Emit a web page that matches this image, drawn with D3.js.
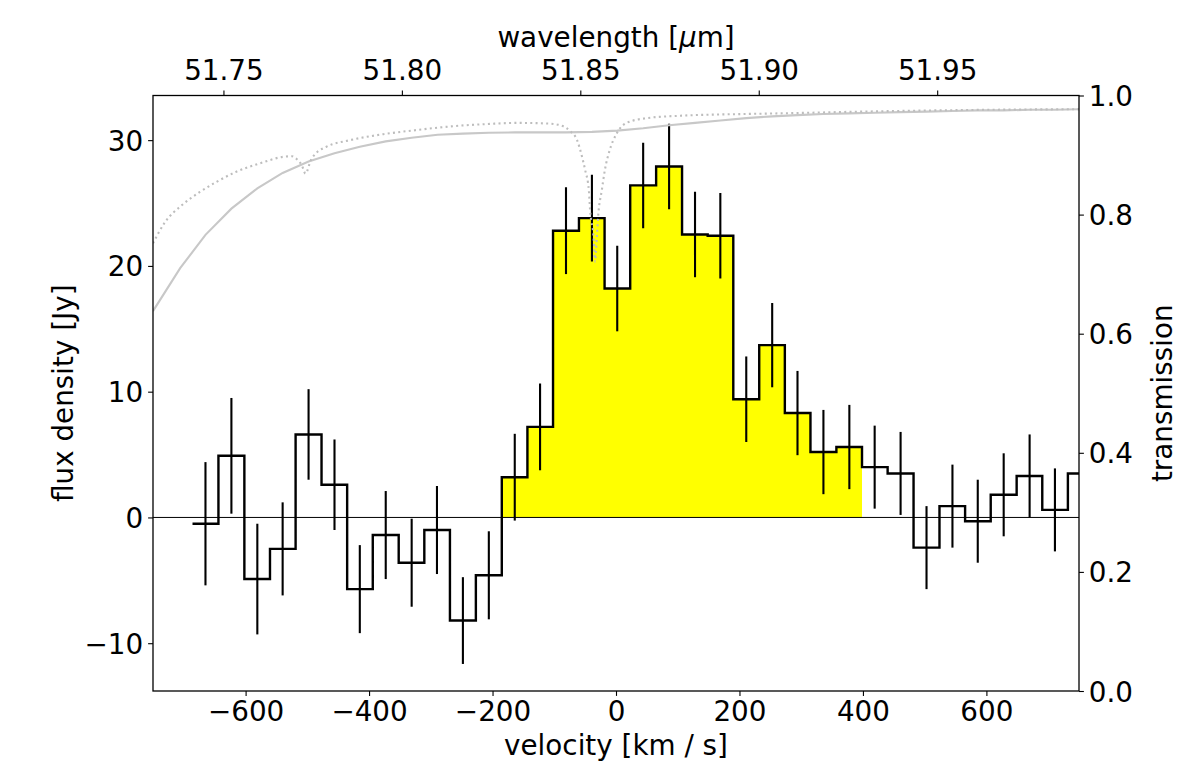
<!DOCTYPE html>
<html><head><meta charset="utf-8">
<script src="https://cdn.jsdelivr.net/npm/d3@7"></script>
<style>body{margin:0;background:#fff} text{font-family:"DejaVu Sans",sans-serif}</style>
</head><body><svg id="c" width="1178" height="771"></svg>
<script>
// ---- data ----
const velocity = [-665,-623,-581,-540,-498,-456,-415,-373,-331,-290,-248,-206,-164,-123,-81,-39,2,44,86,128,169,211,253,294,336,378,419,461,503,545,586,628,670,711,753];
const flux = [-0.5,4.9,-4.9,-2.5,6.6,2.6,-5.7,-1.4,-3.6,-1.0,-8.2,-4.6,3.2,7.2,22.8,23.8,18.2,26.4,27.9,22.5,22.4,9.4,13.7,8.3,5.2,5.6,4.0,3.5,-2.4,0.9,-0.3,1.8,3.3,0.6,3.5];
const fluxErr = [4.9,4.6,4.4,3.7,3.6,3.6,3.5,3.5,3.5,3.5,3.45,3.5,3.45,3.45,3.45,3.45,3.4,3.4,3.4,3.4,3.4,3.4,3.35,3.35,3.35,3.35,3.3,3.3,3.3,3.3,3.3,3.3,3.3,3.3,3.3];
const lineFirst = -164, lineLast = 378;   // centres of first/last highlighted channel
const transVel = [-750,-706,-665,-623,-581,-540,-498,-456,-415,-373,-331,-289,-248,-206,-164,-123,-81,-39,2,44,86,128,169,211,253,294,336,378,420,461,503,545,586,628,670,711,753];
const transVal = [0.638,0.71,0.766,0.81,0.844,0.87,0.889,0.903,0.914,0.923,0.929,0.934,0.936,0.9375,0.938,0.938,0.938,0.939,0.941,0.945,0.95,0.954,0.958,0.962,0.965,0.967,0.969,0.97,0.971,0.972,0.973,0.974,0.975,0.975,0.976,0.976,0.977];
const skyVel = [-750,-730,-703,-674,-647,-615,-577,-539,-525,-517,-509,-503,-494,-486,-469,-431,-377,-323,-269,-210,-160,-112,-90,-74,-63,-55,-50,-44,-42,-36,-34,-31,-29,-23,-18,-10,1,17,50,104,212,266,400,600,750];
const skyVal = [0.752,0.788,0.816,0.838,0.855,0.872,0.886,0.897,0.898,0.893,0.883,0.869,0.892,0.903,0.914,0.925,0.935,0.942,0.948,0.952,0.954,0.953,0.95,0.94,0.925,0.897,0.875,0.841,0.808,0.757,0.721,0.763,0.796,0.841,0.875,0.909,0.936,0.954,0.962,0.966,0.969,0.97,0.973,0.976,0.977];
const velTicks = [-600,-400,-200,0,200,400,600];
const fluxTicks = [-10,0,10,20,30];
const transTicks = [0,0.2,0.4,0.6,0.8,1.0];
const waveTicks = [51.75,51.80,51.85,51.90,51.95];
const restWave = 51.86, cLight = 299792.458;
const velRange = [-750,750], fluxRange = [-13.8,33.55];

// ---- layout ----
const L=153, R=1079, T=95.5, B=691, FS=27.8, TL=4.9, PAD=4.9;
const svg = d3.select('#c');
const x = d3.scaleLinear().domain(velRange).range([L,R]);
const y = d3.scaleLinear().domain(fluxRange).range([B,T]);
const y2 = d3.scaleLinear().domain([0,1]).range([B,T]);
const xw = d3.scaleLinear().domain(velRange.map(v=>restWave*(1+v/cLight))).range([L,R]);

svg.append('defs').append('clipPath').attr('id','clip').append('rect')
  .attr('x',L).attr('y',T).attr('width',R-L).attr('height',B-T);
const plot = svg.append('g').attr('clip-path','url(#clip)');

// bin edges
const edges = velocity.map((v,i)=> i===0 ? v-(velocity[1]-v)/2 : (velocity[i-1]+v)/2);
edges.push(velocity[velocity.length-1] + (velocity[velocity.length-1]-velocity[velocity.length-2])/2);
const stepPts = velocity.map((v,i)=>[edges[i], flux[i]]);
stepPts.push([edges[edges.length-1], flux[flux.length-1]]);

// highlighted fill
const i0 = velocity.indexOf(lineFirst), i1 = velocity.indexOf(lineLast);
const fillPts = [];
for (let i=i0;i<=i1;i++) fillPts.push([edges[i], flux[i]]);
fillPts.push([edges[i1+1], flux[i1]]);
plot.append('path').datum(fillPts)
  .attr('d', d3.area().curve(d3.curveStepAfter).x(d=>x(d[0])).y0(y(0)).y1(d=>y(d[1])))
  .attr('fill','#ffff00').attr('stroke','none');

// zero line
plot.append('line').attr('x1',L).attr('x2',R).attr('y1',y(0)).attr('y2',y(0))
  .attr('stroke','#000').attr('stroke-width',1);

// step line
plot.append('path').datum(stepPts)
  .attr('d', d3.line().curve(d3.curveStepAfter).x(d=>x(d[0])).y(d=>y(d[1])))
  .attr('fill','none').attr('stroke','#000').attr('stroke-width',2.4).attr('stroke-linejoin','miter');

// error bars
plot.selectAll('line.err').data(velocity).join('line').attr('class','err')
  .attr('x1',d=>x(d)).attr('x2',d=>x(d))
  .attr('y1',(d,i)=>y(flux[i]-fluxErr[i])).attr('y2',(d,i)=>y(flux[i]+fluxErr[i]))
  .attr('stroke','#000').attr('stroke-width',2.1);

// transmission curves
plot.append('path').datum(transVel.map((v,i)=>[v,transVal[i]]))
  .attr('d', d3.line().x(d=>x(d[0])).y(d=>y2(d[1])))
  .attr('fill','none').attr('stroke','#c8c8c8').attr('stroke-width',2.1);
plot.append('path').datum(skyVel.map((v,i)=>[v,skyVal[i]]))
  .attr('d', d3.line().curve(d3.curveMonotoneX).x(d=>x(d[0])).y(d=>y2(d[1])))
  .attr('fill','none').attr('stroke','#bdbdbd').attr('stroke-width',2.1).attr('stroke-dasharray','2,3.3');

// axes
function styleAxis(g, dy){
  g.select('.domain').remove();
  g.selectAll('.tick line').attr('stroke','#000').attr('stroke-width',1.1);
  g.selectAll('.tick text').attr('font-size',FS).attr('font-family','DejaVu Sans').attr('fill','#000');
  if (dy!==undefined) g.selectAll('.tick text').attr('dy',dy);
}
svg.append('g').attr('transform',`translate(0,${B})`)
  .call(d3.axisBottom(x).tickValues(velTicks).tickFormat(d3.format('d')).tickSize(TL).tickPadding(PAD))
  .call(g=>styleAxis(g,'0.74em'));
svg.append('g').attr('transform',`translate(0,${T})`)
  .call(d3.axisTop(xw).tickValues(waveTicks).tickFormat(d3.format('.2f')).tickSize(TL).tickPadding(PAD))
  .call(g=>styleAxis(g,'-0.21em'));
svg.append('g').attr('transform',`translate(${L},0)`)
  .call(d3.axisLeft(y).tickValues(fluxTicks).tickFormat(d3.format('d')).tickSize(TL).tickPadding(PAD))
  .call(g=>styleAxis(g,'0.36em'));
svg.append('g').attr('transform',`translate(${R},0)`)
  .call(d3.axisRight(y2).tickValues(transTicks).tickFormat(d3.format('.1f')).tickSize(TL).tickPadding(PAD))
  .call(g=>styleAxis(g,'0.36em'));

// frame
svg.append('rect').attr('x',L).attr('y',T).attr('width',R-L).attr('height',B-T)
  .attr('fill','none').attr('stroke','#000').attr('stroke-width',1.3);

// axis labels
svg.append('text').attr('x',(L+R)/2).attr('y',755).attr('text-anchor','middle')
  .attr('font-size',FS).text('velocity [km / s]');
const wl = svg.append('text').attr('x',(L+R)/2).attr('y',47).attr('text-anchor','middle').attr('font-size',FS);
wl.append('tspan').text('wavelength [');
wl.append('tspan').attr('font-style','italic').text('μ');
wl.append('tspan').text('m]');
svg.append('text').attr('transform',`translate(73,${(T+B)/2}) rotate(-90)`).attr('text-anchor','middle')
  .attr('font-size',FS).text('flux density [Jy]');
svg.append('text').attr('transform',`translate(1172,${(T+B)/2}) rotate(-90)`).attr('text-anchor','middle')
  .attr('font-size',FS).text('transmission');
</script></body></html>
